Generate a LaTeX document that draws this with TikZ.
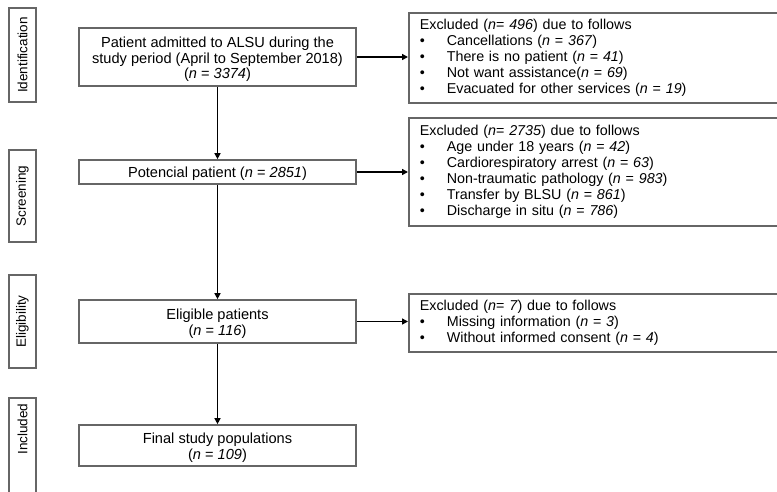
\documentclass[tikz,border=0pt]{standalone}
\usepackage{fontspec}
\setmainfont{Liberation Sans}
\usetikzlibrary{arrows.meta,calc}
\begin{document}
\begin{tikzpicture}[x=1pt,y=-1pt,
  box/.style={draw=black!60, line width=1.7pt, fill=white, minimum width=277pt, inner sep=0pt},
  boxtxt/.style={align=center, inner sep=0pt, font=\fontsize{14.6}{15.6}\selectfont},
  exbox/.style={draw=black!60, line width=1.7pt, fill=white, align=left,
    anchor=north west, minimum width=372pt, text width=350pt, inner xsep=11pt, inner ysep=2pt,
    font=\fontsize{14.3}{16}\selectfont},
  sidetxt/.style={rotate=90, font=\fontsize{13.5}{14}\selectfont},
  side/.style={draw=black!60, line width=1.7pt, minimum width=27pt, inner sep=0pt},
  arr/.style={line width=1.8pt, black, -{Triangle[length=6pt,width=6pt]}}
]
\useasboundingbox (0,0) rectangle (777,491);
\newcommand{\bl}[1]{\makebox[27pt][l]{•}#1}
\newcommand{\nn}{\textit{n}}
% side labels
\node[side, minimum height=94pt] (s1) at (22.5,55) {};
\node[sidetxt] (t1) at (s1.center) {Identification};
\node[side, minimum height=92pt] (s2) at (22.5,196) {};
\node[sidetxt] (t2) at (s2.center) {Screening};
\node[side, minimum height=93pt] (s3) at (22.5,321.5) {};
\node[sidetxt] (t3) at (s3.center) {Eligibility};
\node[side, minimum height=104pt] (s4) at (22.5,450) {};
\node[sidetxt] (t4) at (22.5,429) {Included};
% main boxes
\node[box, minimum height=58pt] (b1) at (217.5,57) {};
\node[boxtxt] (b1t) at ([yshift=-2.5pt]b1.center) {Patient admitted to ALSU during the\\study period (April to September 2018)\\(\nn{} = \textit{3374})};
\node[box, minimum height=24pt] (b2) at (217.5,172) {};
\node[boxtxt] (b2t) at ([yshift=-1.5pt]b2.center) {Potencial patient (\nn{} = \textit{2851})};
\node[box, minimum height=43pt] (b3) at (217.5,321.5) {};
\node[boxtxt] (b3t) at ([yshift=-2.5pt]b3.center) {Eligible patients\\(\nn{} = \textit{116})};
\node[box, minimum height=41pt] (b4) at (217.5,445.5) {};
\node[boxtxt] (b4t) at ([yshift=-2pt]b4.center) {Final study populations\\(\nn{} = \textit{109})};
% exclusion boxes
\node[exbox, minimum height=90pt] (e1) at (408,12) {Excluded (\nn= \textit{496}) due to follows\\
\bl{Cancellations (\nn{} = \textit{367})}\\
\bl{There is no patient (\nn{} = \textit{41})}\\
\bl{Not want assistance(\nn{} = \textit{69})}\\
\bl{Evacuated for other services (\nn{} = \textit{19})}};
\node[exbox, minimum height=108pt] (e2) at (408,117) {Excluded (\nn= \textit{2735}) due to follows\\
\bl{Age under 18 years (\nn{} = \textit{42})}\\
\bl{Cardiorespiratory arrest (\nn{} = \textit{63})}\\
\bl{Non-traumatic pathology (\nn{} = \textit{983})}\\
\bl{Transfer by BLSU (\nn{} = \textit{861})}\\
\bl{Discharge in situ (\nn{} = \textit{786})}};
\node[exbox, minimum height=58pt] (e3) at (408,293) {Excluded (\nn= \textit{7}) due to follows\\
\bl{Missing information (\nn{} = \textit{3})}\\
\bl{Without informed consent (\nn{} = \textit{4})}};
% arrows
\draw[arr] (b1.south) -- (b2.north);
\draw[arr] (b2.south) -- (b3.north);
\draw[arr] (b3.south) -- (b4.north);
\draw[arr] (b1.east) -- (b1.east -| e1.west);
\draw[arr] (b2.east) -- (b2.east -| e2.west);
\draw[arr] (b3.east) -- (b3.east -| e3.west);
\end{tikzpicture}
\end{document}
